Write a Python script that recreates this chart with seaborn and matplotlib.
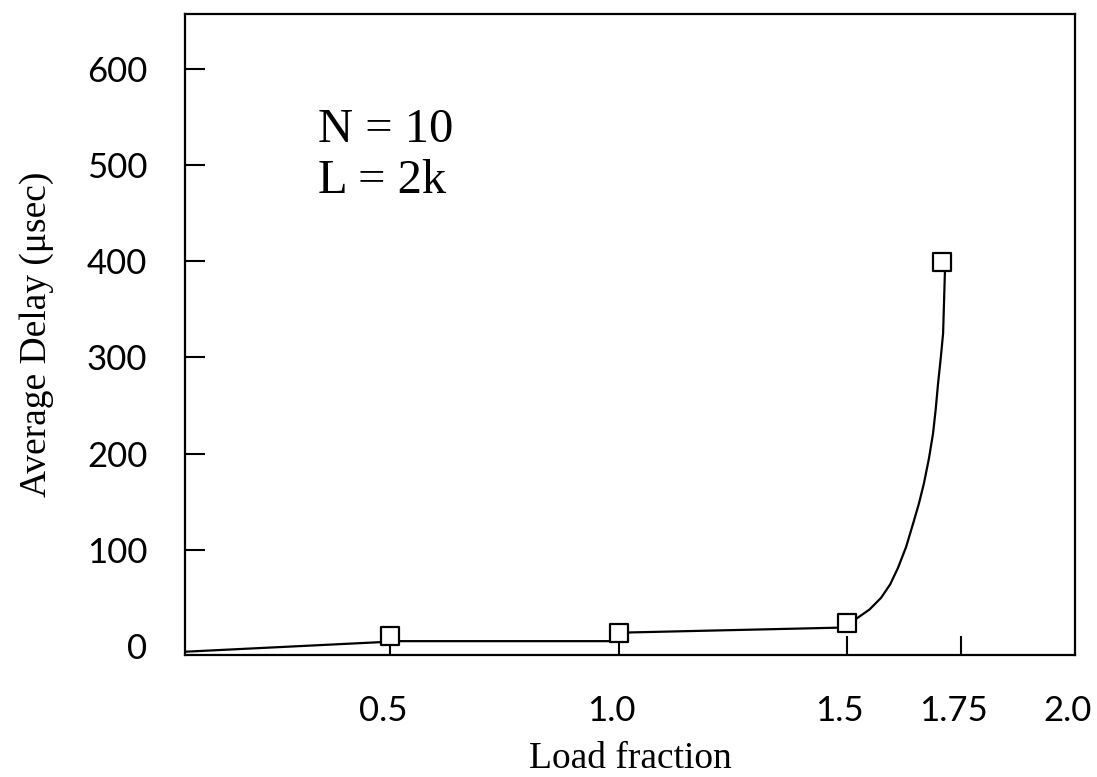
import matplotlib
matplotlib.use("Agg")
import matplotlib.pyplot as plt
import matplotlib.transforms as mtransforms
import seaborn as sns
import pandas as pd

# Data
curve_x = [0.05, 0.48, 0.52, 0.98, 1.02, 1.48, 1.52, 1.55, 1.575, 1.595, 1.612, 1.63,
           1.647, 1.658, 1.669, 1.68, 1.689, 1.695, 1.700, 1.706, 1.711, 1.713, 1.715]
curve_y = [-6, 4, 5, 5, 14, 19, 28, 38, 50, 64, 81, 103,
           130, 148, 169, 195, 221, 247, 273, 300, 325, 357, 389]
point_x = [0.5, 1.0, 1.5, 1.708]
point_y = [10, 13, 24, 399]
x_ticks = [0.5, 1.0, 1.5, 1.75, 2.0]
x_tick_labels = ["0.5", "1.0", "1.5", "1.75", "2.0"]
y_ticks = [0, 100, 200, 300, 400, 500, 600]
y_tick_labels = ["0", "100", "200", "300", "400", "500", "600"]

sns.set_style("white")
plt.rcParams["font.family"] = ["Lato", "DejaVu Sans"]
plt.rcParams["text.color"] = "black"
plt.rcParams["axes.labelcolor"] = "black"

fig = plt.figure(figsize=(10.97, 7.77), dpi=100)
ax = fig.add_axes([185 / 1097, 1 - 655 / 777, 890 / 1097, 641 / 777])

curve = pd.DataFrame({"x": curve_x, "y": curve_y})
points = pd.DataFrame({"x": point_x, "y": point_y})

sns.lineplot(data=curve, x="x", y="y", sort=False, estimator=None,
             color="black", linewidth=1.6, ax=ax, zorder=2)
sns.scatterplot(data=points, x="x", y="y", marker="s", s=150,
                facecolor="white", edgecolor="black", linewidth=1.6,
                ax=ax, zorder=3)

ax.set_xlim(0.05, 2.0)
ax.set_ylim(-9.4, 657)

ax.set_xticks(x_ticks)
ax.set_xticklabels(x_tick_labels)
ax.set_yticks(y_ticks)
ax.set_yticklabels(y_tick_labels)

ax.tick_params(axis="x", direction="in", length=14, width=1.5, pad=29,
               labelsize=25, colors="black", bottom=True)
ax.tick_params(axis="y", direction="in", length=14.5, width=1.5, pad=27,
               labelsize=25, colors="black", left=True)
shift = mtransforms.ScaledTranslation(-7 / 100, 0, fig.dpi_scale_trans)
for lab in ax.get_xticklabels():
    lab.set_transform(lab.get_transform() + shift)
ax.yaxis.get_major_ticks()[0].tick1line.set_visible(False)
ax.xaxis.get_major_ticks()[-1].tick1line.set_visible(False)

for sp in ax.spines.values():
    sp.set_visible(True)
    sp.set_linewidth(1.6)
    sp.set_color("black")

serif = ["Liberation Serif", "DejaVu Serif"]
ax.set_xlabel("Load fraction", fontsize=27, family=serif, labelpad=10)
ax.set_ylabel("Average Delay (\u03bcsec)", fontsize=27, family=serif, labelpad=24)

ax.text((318 - 185) / 890, (655 - 142) / 641, "N = 10", transform=ax.transAxes,
        fontsize=35, family=serif, va="baseline", ha="left")
ax.text((318 - 185) / 890, (655 - 193) / 641, "L = 2k", transform=ax.transAxes,
        fontsize=35, family=serif, va="baseline", ha="left")

fig.savefig("out.png", dpi=100)
